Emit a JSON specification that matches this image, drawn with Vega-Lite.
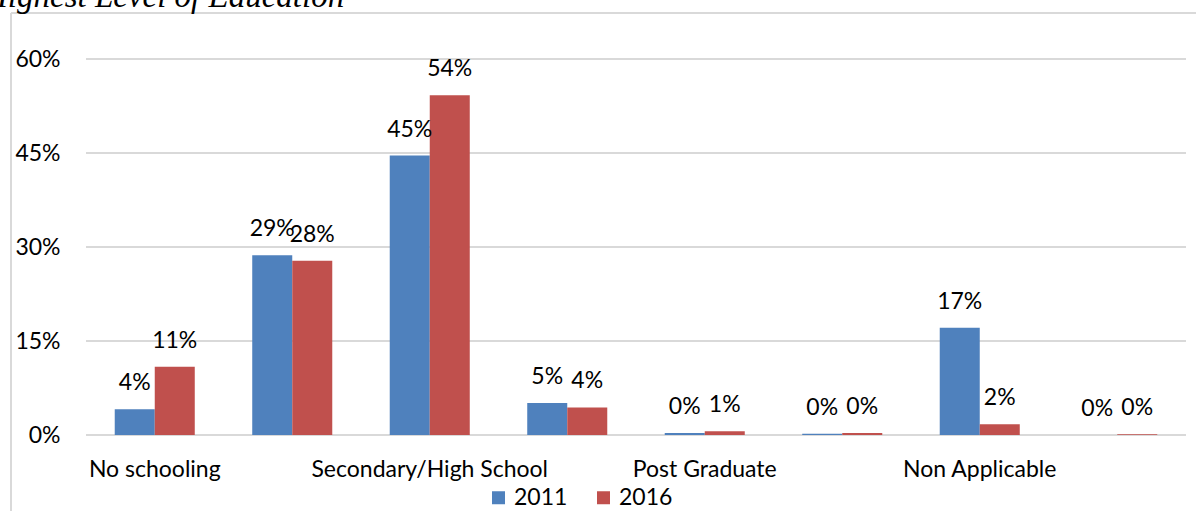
{
  "$schema": "https://vega.github.io/schema/vega-lite/v6.json",
  "width": 1185,
  "height": 498,
  "autosize": {"type": "none"},
  "padding": {"left": 11, "top": 13, "right": 0, "bottom": 0},
  "background": "white",
  "config": {
    "view": {"stroke": null},
    "font": "Lato",
    "text": {"font": "Lato"}
  },
  "title": {
    "text": "Highest Level of Education",
    "font": "Liberation Serif",
    "fontStyle": "italic",
    "fontWeight": "normal",
    "fontSize": 33,
    "color": "#000000",
    "anchor": "start",
    "frame": "group",
    "baseline": "alphabetic",
    "offset": -28,
    "dx": -27
  },
  "datasets": {
    "education": [
      {"level": "No schooling", "year": "2011", "share": 0.041},
      {"level": "No schooling", "year": "2016", "share": 0.109},
      {"level": "Primary School", "year": "2011", "share": 0.287},
      {"level": "Primary School", "year": "2016", "share": 0.278},
      {"level": "Secondary/High School", "year": "2011", "share": 0.446},
      {"level": "Secondary/High School", "year": "2016", "share": 0.542},
      {"level": "Tertiary/Undergraduate", "year": "2011", "share": 0.051},
      {"level": "Tertiary/Undergraduate", "year": "2016", "share": 0.044},
      {"level": "Post Graduate", "year": "2011", "share": 0.003},
      {"level": "Post Graduate", "year": "2016", "share": 0.006},
      {"level": "Vocational/Other", "year": "2011", "share": 0.002},
      {"level": "Vocational/Other", "year": "2016", "share": 0.003},
      {"level": "Non Applicable", "year": "2011", "share": 0.171},
      {"level": "Non Applicable", "year": "2016", "share": 0.017},
      {"level": "Not Stated", "year": "2011", "share": 0.0},
      {"level": "Not Stated", "year": "2016", "share": 0.001}
    ],
    "gridlines": [
      {"tick": 0}, {"tick": 0.15}, {"tick": 0.3}, {"tick": 0.45}, {"tick": 0.6}
    ],
    "frame": [{"edge": 0}]
  },
  "resolve": {"scale": {"x": "independent", "y": "independent"}},
  "layer": [
    {
      "data": {"name": "frame"},
      "mark": {"type": "rule", "color": "#d9d9d9", "strokeWidth": 2},
      "encoding": {
        "y": {"field": "edge", "type": "quantitative", "scale": {"domain": [0, 1], "range": [0, 498]}, "axis": null}
      }
    },
    {
      "data": {"name": "frame"},
      "mark": {"type": "rule", "color": "#d9d9d9", "strokeWidth": 2},
      "encoding": {
        "x": {"field": "edge", "type": "quantitative", "scale": {"domain": [0, 1], "range": [0, 1185]}, "axis": null}
      }
    },
    {
      "data": {"name": "gridlines"},
      "mark": {"type": "rule", "color": "#d9d9d9", "strokeWidth": 2},
      "encoding": {
        "y": {
          "field": "tick",
          "type": "quantitative",
          "scale": {"domain": [0, 0.6], "range": [422, 46], "nice": false, "zero": true},
          "axis": {
            "values": [0, 0.15, 0.3, 0.45, 0.6],
            "format": ".0%",
            "title": null,
            "grid": false,
            "domain": false,
            "ticks": false,
            "offset": -49,
            "labelPadding": 0,
            "labelFont": "Lato",
            "labelFontSize": 23,
            "labelColor": "#000000"
          }
        },
        "x": {"datum": 0, "type": "quantitative", "scale": {"domain": [0, 1], "range": [75, 1175]}, "axis": null},
        "x2": {"datum": 1}
      }
    },
    {
      "data": {"name": "education"},
      "encoding": {
        "x": {
          "field": "level",
          "type": "nominal",
          "sort": null,
          "scale": {"range": [75, 1175], "paddingInner": 0.418, "paddingOuter": 0.209},
          "axis": {
            "title": null,
            "orient": "bottom",
            "domain": false,
            "ticks": false,
            "grid": false,
            "labelAngle": 0,
            "offset": -53,
            "labelPadding": 0,
            "labelBaseline": "top",
            "labelFont": "Lato",
            "labelFontSize": 23,
            "labelColor": "#000000",
            "labelOverlap": false,
            "labelLimit": 0,
            "labelExpr": "indexof(['No schooling', 'Secondary/High School', 'Post Graduate', 'Non Applicable'], datum.value) >= 0 ? datum.label : ''"
          }
        },
        "xOffset": {"field": "year", "type": "nominal", "sort": ["2011", "2016"]},
        "y": {
          "field": "share",
          "type": "quantitative",
          "scale": {"domain": [0, 0.6], "range": [422, 46], "nice": false},
          "axis": null
        }
      },
      "layer": [
        {
          "mark": {"type": "bar"},
          "encoding": {
            "color": {
              "field": "year",
              "type": "nominal",
              "scale": {"domain": ["2011", "2016"], "range": ["#4f81bd", "#c0504d"]},
              "legend": {
                "title": null,
                "orient": "none",
                "direction": "horizontal",
                "legendX": 476,
                "legendY": 473,
                "symbolType": "square",
                "symbolSize": 169,
                "symbolStrokeWidth": 0,
                "labelFont": "Lato",
                "labelFontSize": 23,
                "labelColor": "#000000",
                "labelOffset": 4,
                "columnPadding": 24
              }
            }
          }
        },
        {
          "mark": {"type": "text", "baseline": "middle", "dy": -26, "fontSize": 23, "font": "Lato", "color": "#000000"},
          "encoding": {
            "text": {"field": "share", "type": "quantitative", "format": ".0%"}
          }
        }
      ]
    }
  ]
}
